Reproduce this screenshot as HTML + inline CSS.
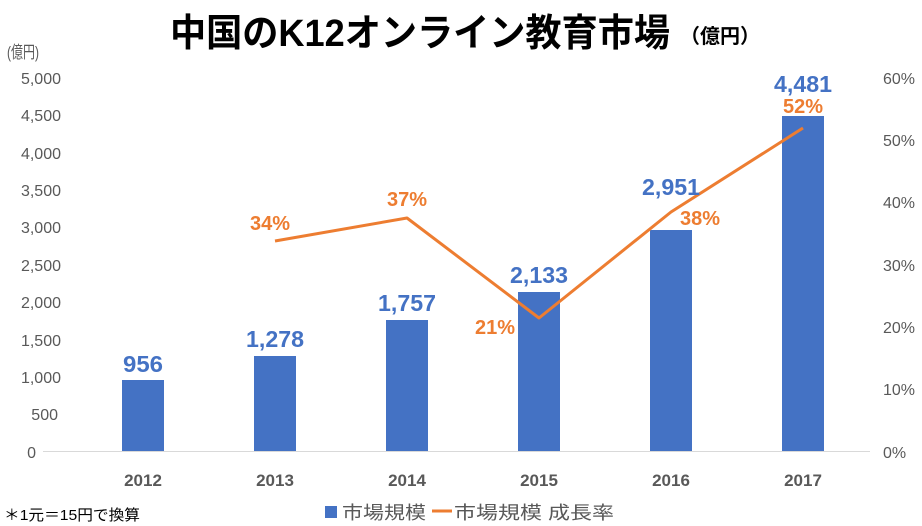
<!DOCTYPE html>
<html><head><meta charset="utf-8"><style>
html,body{margin:0;padding:0;background:#fff;}
svg{display:block;}
text{font-family:"Liberation Sans","Noto Sans CJK JP",sans-serif;}
</style></head><body>
<svg width="922" height="526" viewBox="0 0 922 526" xmlns="http://www.w3.org/2000/svg">
<text x="170" y="46" font-size="38" font-weight="bold" fill="#000" textLength="500" lengthAdjust="spacingAndGlyphs">中国のK12オンライン教育市場</text>
<text x="680" y="43" font-size="20" font-weight="bold" fill="#000" textLength="80" lengthAdjust="spacingAndGlyphs">（億円）</text>
<text x="7" y="58" font-size="17" fill="#595959" textLength="32" lengthAdjust="spacingAndGlyphs">(億円)</text>
<g font-size="16" fill="#595959" text-anchor="end">
<text x="61" y="84">5,000</text><text x="61" y="121">4,500</text><text x="61" y="159">4,000</text>
<text x="61" y="196">3,500</text><text x="61" y="233">3,000</text><text x="61" y="271">2,500</text>
<text x="61" y="308">2,000</text><text x="61" y="346">1,500</text><text x="61" y="383">1,000</text>
<text x="58" y="420">500</text><text x="36" y="458">0</text>
</g>
<g font-size="16" fill="#595959">
<text x="883" y="84">60%</text><text x="883" y="146">50%</text><text x="883" y="208">40%</text>
<text x="883" y="271">30%</text><text x="883" y="333">20%</text><text x="883" y="395">10%</text>
<text x="883" y="458">0%</text>
</g>
<line x1="43" y1="451.5" x2="870" y2="451.5" stroke="#d9d9d9" stroke-width="1"/>
<g fill="#4472c4">
<rect x="122" y="380" width="42" height="71"/>
<rect x="254" y="356" width="42" height="95"/>
<rect x="386" y="320" width="42" height="131"/>
<rect x="518" y="292" width="42" height="159"/>
<rect x="650" y="230" width="42" height="221"/>
<rect x="782" y="116" width="42" height="335"/>
</g>
<polyline points="275,241 407,218 539,318 671,212 803,128" fill="none" stroke="#ed7d31" stroke-width="3" stroke-linejoin="round"/>
<g font-size="23" font-weight="900" fill="#4472c4" text-anchor="middle">
<text x="143" y="372" textLength="40" lengthAdjust="spacingAndGlyphs">956</text><text x="275" y="347" textLength="58" lengthAdjust="spacingAndGlyphs">1,278</text><text x="407" y="311" textLength="58" lengthAdjust="spacingAndGlyphs">1,757</text>
<text x="539" y="283" textLength="58" lengthAdjust="spacingAndGlyphs">2,133</text><text x="671" y="195" textLength="58" lengthAdjust="spacingAndGlyphs">2,951</text><text x="803" y="92" textLength="58" lengthAdjust="spacingAndGlyphs">4,481</text>
</g>
<g font-size="20" font-weight="bold" fill="#ed7d31" text-anchor="middle">
<text x="270" y="230">34%</text><text x="407" y="206">37%</text><text x="495" y="334">21%</text>
<text x="700" y="225">38%</text><text x="803" y="113">52%</text>
</g>
<g font-size="17" font-weight="bold" fill="#595959" text-anchor="middle">
<text x="143" y="486">2012</text><text x="275" y="486">2013</text><text x="407" y="486">2014</text>
<text x="539" y="486">2015</text><text x="671" y="486">2016</text><text x="803" y="486">2017</text>
</g>
<text x="4" y="520" font-size="15" fill="#000" textLength="136" lengthAdjust="spacingAndGlyphs">＊1元＝15円で換算</text>
<rect x="325" y="506" width="12" height="12" fill="#4472c4"/>
<text x="342" y="519" font-size="18" fill="#595959" textLength="84" lengthAdjust="spacingAndGlyphs">市場規模</text>
<line x1="432" y1="511" x2="452" y2="511" stroke="#ed7d31" stroke-width="3"/>
<text x="454" y="519" font-size="18" fill="#595959" textLength="160" lengthAdjust="spacingAndGlyphs">市場規模 成長率</text>
</svg>
</body></html>
